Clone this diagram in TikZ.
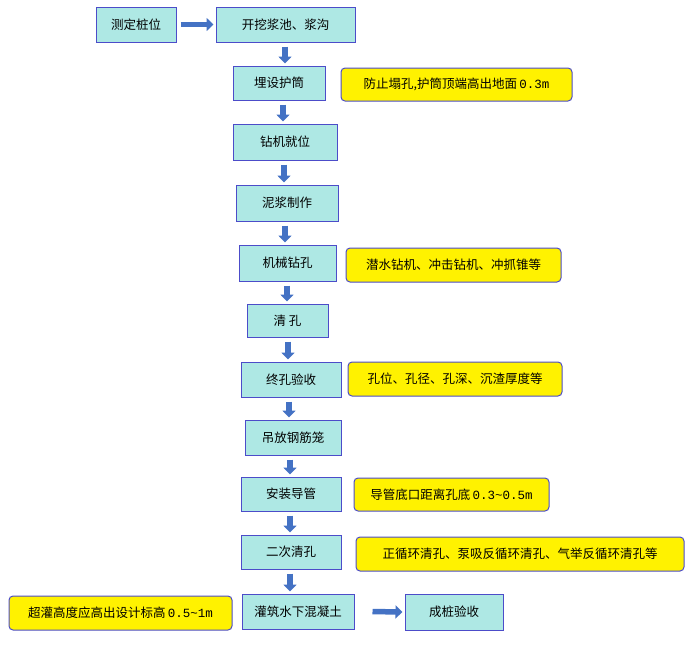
\documentclass[tikz,border=0pt]{standalone}
\usepackage{fontspec}
\newfontfamily\cjk{Noto Sans CJK SC}
\newfontfamily\mono{Liberation Mono}
\usetikzlibrary{arrows.meta}
\begin{document}
\begin{tikzpicture}[x=1pt,y=-1pt,
  every node/.style={font=\cjk\fontsize{12.5}{14}\selectfont, inner sep=0pt},
  proc/.style={draw=black!30!blue!70, line width=1pt, fill=cyan!25!green!12!white, fill={rgb,255:red,174;green,232;blue,228}},
  note/.style={draw=black!30!blue!70, line width=1pt, fill=yellow, rounded corners=4pt},
  barrow/.style={-{Triangle[length=7pt,width=13pt]}, line width=5.5pt, draw={rgb,255:red,68;green,114;blue,196}, shorten >=2pt, shorten <=4pt}]
\useasboundingbox (0,0) rectangle (692,646);
\newcommand\bx[6]{\node[#1, minimum width=#4-#2, minimum height=#5-#3] (#6) at ({(#2+#4)/2},{(#3+#5)/2}) {};}
\bx{proc}{96}{7}{176}{42}{n1} \node at (n1) {测定桩位};
\bx{proc}{216}{7}{355}{42}{n2} \node at (n2) {开挖浆池、浆沟};
\bx{proc}{233}{66}{325}{100}{n3} \node at (n3) {埋设护筒};
\bx{note}{341}{68}{572}{101}{m3} \node at (m3) {防止塌孔,护筒顶端高出地面{\mono\,0.3m}};
\bx{proc}{233}{124}{337}{160}{n4} \node at (n4) {钻机就位};
\bx{proc}{236}{185}{338}{221}{n5} \node at (n5) {泥浆制作};
\bx{proc}{239}{245}{336}{281}{n6} \node at (n6) {机械钻孔};
\bx{note}{346}{248}{561}{282}{m6} \node at (m6) {潜水钻机、冲击钻机、冲抓锥等};
\bx{proc}{247}{304}{328}{337}{n7} \node at (n7) {清\ 孔};
\bx{proc}{241}{362}{341}{397}{n8} \node at (n8) {终孔验收};
\bx{note}{348}{362}{562}{396}{m8} \node at (m8) {孔位、孔径、孔深、沉渣厚度等};
\bx{proc}{245}{420}{341}{455}{n9} \node at (n9) {吊放钢筋笼};
\bx{proc}{241}{477}{341}{511}{n10} \node at (n10) {安装导管};
\bx{note}{354}{478}{549}{511}{m10} \node at (m10) {导管底口距离孔底{\mono\,0.3\textasciitilde0.5m}};
\bx{proc}{241}{535}{341}{569}{n11} \node at (n11) {二次清孔};
\bx{note}{356}{537}{684}{571}{m11} \node at (m11) {正循环清孔、泵吸反循环清孔、气举反循环清孔等};
\bx{proc}{242}{594}{354}{629}{n12} \node at (n12) {灌筑水下混凝土};
\bx{note}{9}{596}{232}{630}{m12} \node at (m12) {超灌高度应高出设计标高{\mono\,0.5\textasciitilde1m}};
\bx{proc}{405}{594}{503}{630}{n13} \node at (n13) {成桩验收};
\draw[barrow] (n1.east) -- (n2.west);
\draw[barrow] (n12.east) ++(14,0) coordinate (c1) (c1) -- (n13.west);
\foreach \a/\b/\xx in {n2/n3/285,n3/n4/283,n4/n5/284,n5/n6/285,n6/n7/287,n7/n8/288,n8/n9/289,n9/n10/290,n10/n11/290,n11/n12/290}
  \draw[barrow] (\xx,0 |- \a.south) -- (\xx,0 |- \b.north);
\end{tikzpicture}
\end{document}
